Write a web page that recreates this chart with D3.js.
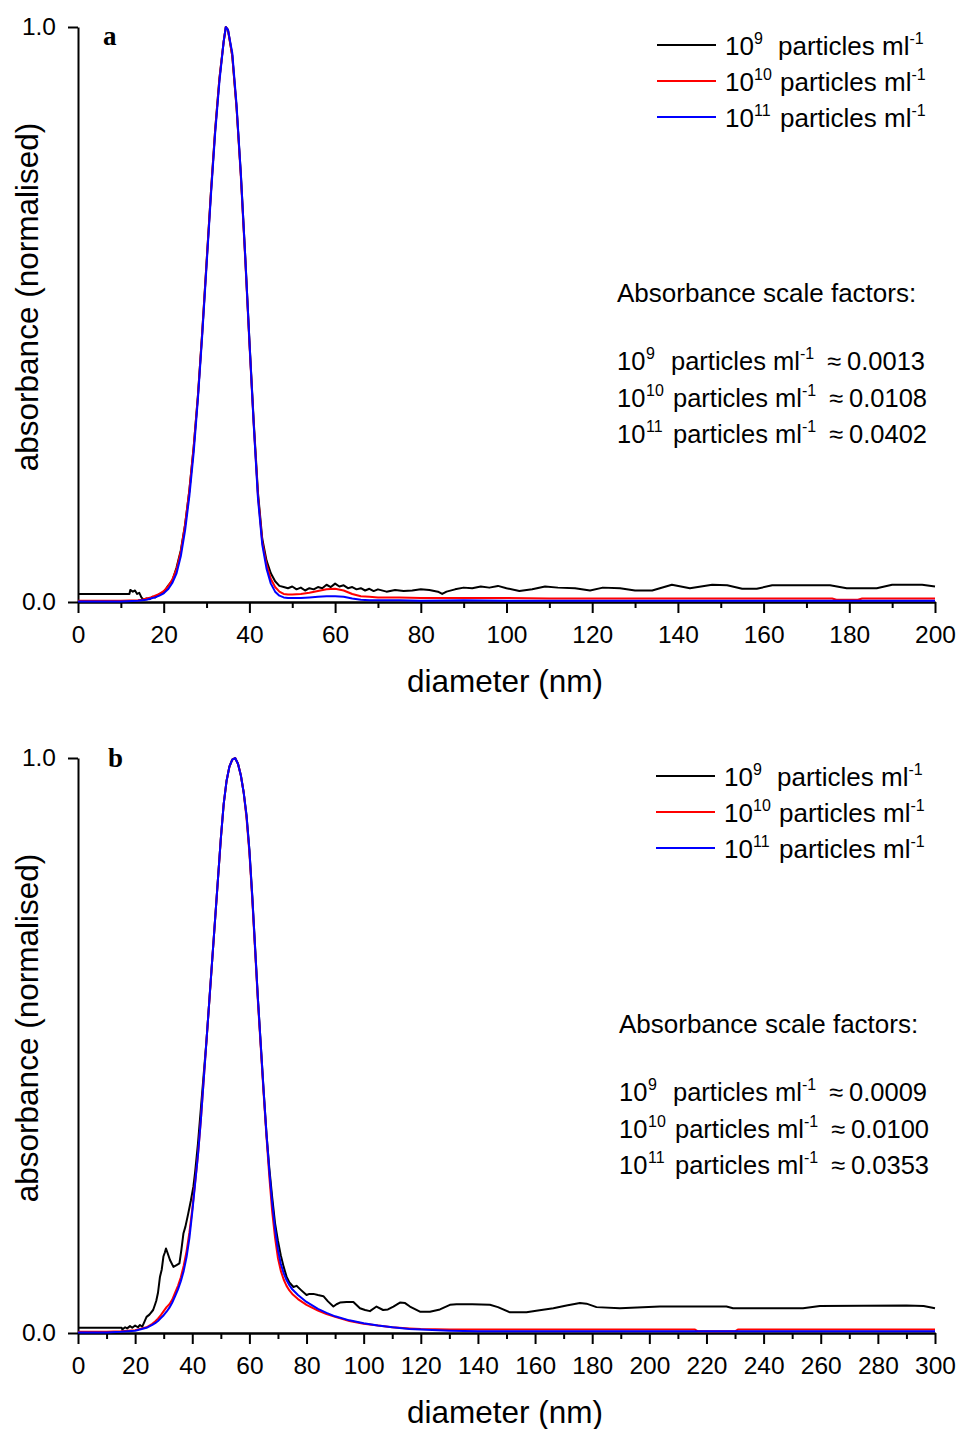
<!DOCTYPE html>
<html>
<head>
<meta charset="utf-8">
<title>absorbance vs diameter</title>
<style>
body { margin: 0; background: #fff; }
svg text { font-family: "Liberation Sans", Arial, sans-serif; fill: #000; }
</style>
</head>
<body>
<script src="https://d3js.org/d3.v7.min.js"></script>
<script>
// ---- panel a ----
var diamA = [0, 10, 14, 15, 16, 17, 18, 19, 20, 21, 22, 23, 24, 25, 26, 27, 28, 29, 30, 31, 32, 33, 34, 34.5,
  35, 36, 37, 38, 39, 40, 41, 42, 43, 44, 45, 46, 47, 48, 49, 50,
  52, 54, 56, 58, 60, 62, 64, 66, 68, 70, 75, 80, 90, 100, 110, 120, 140, 160, 176, 177, 182, 183, 200];
var redA = [0.002, 0.002, 0.003, 0.004, 0.006, 0.008, 0.011, 0.014, 0.019, 0.027, 0.039, 0.057, 0.088, 0.135, 0.195, 0.27, 0.36, 0.47, 0.59, 0.71, 0.82, 0.91, 0.975, 1.0,
  0.995, 0.95, 0.86, 0.74, 0.6, 0.45, 0.31, 0.185, 0.105, 0.065, 0.04, 0.026, 0.018, 0.014, 0.013, 0.013,
  0.014, 0.016, 0.019, 0.022, 0.023, 0.02, 0.014, 0.01, 0.009, 0.008, 0.008, 0.007, 0.007, 0.007, 0.006, 0.006, 0.006, 0.006, 0.006, 0.004, 0.004, 0.006, 0.006];
var blueA = [0.001, 0.001, 0.002, 0.003, 0.004, 0.006, 0.008, 0.011, 0.015, 0.022, 0.033, 0.05, 0.08, 0.125, 0.185, 0.26, 0.355, 0.465, 0.585, 0.705, 0.815, 0.905, 0.975, 1.0,
  0.995, 0.955, 0.865, 0.745, 0.605, 0.455, 0.31, 0.18, 0.1, 0.058, 0.032, 0.018, 0.011, 0.008, 0.007, 0.007,
  0.007, 0.008, 0.009, 0.01, 0.01, 0.009, 0.006, 0.004, 0.003, 0.003, 0.003, 0.002, 0.003, 0.002, 0.002, 0.002, 0.002, 0.002, 0.002, 0.002, 0.002, 0.002, 0.002];
var diamBlackA = [0, 12, 12.2, 12.8, 13.3, 13.8, 14.3, 14.8, 15.3, 16, 16.7, 17.4, 18, 19, 20, 21, 22, 23, 24, 25,
  26, 27, 28, 29, 30, 31, 32, 33, 34, 34.5, 35, 36, 37, 38, 39, 40, 41, 42, 43, 44, 45,
  46, 47, 48, 49, 50, 51, 52, 53, 54, 55, 56, 57, 58, 59, 60, 61, 62, 63, 64, 65, 66, 67, 68, 69, 70,
  72, 74, 76, 78, 80, 82, 84, 85, 86, 88, 90, 92, 94, 96, 98, 100, 103, 106, 109, 112, 116,
  119.5, 122.5, 126.5, 130, 134, 138.6, 142.8, 148, 151.5, 155, 158.4, 162, 175.5, 179.4, 186.4, 190, 197, 200];
var blackA = [0.014, 0.014, 0.021, 0.018, 0.02, 0.014, 0.016, 0.008, 0.004, 0.006, 0.005, 0.009, 0.008, 0.014, 0.016, 0.028, 0.037, 0.06, 0.09, 0.135,
  0.195, 0.27, 0.36, 0.47, 0.59, 0.71, 0.82, 0.91, 0.975, 1.0, 0.995, 0.95, 0.86, 0.745, 0.605, 0.455, 0.315, 0.19, 0.11, 0.072, 0.05,
  0.036, 0.028, 0.026, 0.024, 0.027, 0.022, 0.025, 0.02, 0.024, 0.022, 0.026, 0.024, 0.03, 0.026, 0.032, 0.027, 0.029, 0.024, 0.026, 0.022, 0.024, 0.02, 0.023, 0.019, 0.022,
  0.018, 0.021, 0.019, 0.02, 0.022, 0.021, 0.018, 0.014, 0.018, 0.022, 0.025, 0.024, 0.027, 0.025, 0.028, 0.024, 0.019, 0.022, 0.027, 0.025, 0.024,
  0.02, 0.025, 0.024, 0.02, 0.02, 0.03, 0.024, 0.03, 0.029, 0.023, 0.023, 0.029, 0.029, 0.024, 0.024, 0.03, 0.03, 0.027];

// ---- panel b ----
var diamB = [0, 10, 15, 20, 24,
  26, 27, 28, 29, 30, 31, 32, 33, 34, 35, 36, 37, 38, 39, 40, 41, 42, 43, 44, 45, 46, 47, 48, 49, 50,
  51, 52, 53, 54, 55, 56, 57, 58, 59, 60, 61, 62, 63, 64, 65, 66, 67, 68, 69, 70, 71, 72, 73, 74, 75,
  77, 80, 84, 87, 90, 95, 100, 105, 110, 116, 120, 130, 140, 160, 200, 216, 217, 230, 231, 300];
var redB = [0.002, 0.002, 0.003, 0.005, 0.01,
  0.016, 0.02, 0.025, 0.031, 0.038, 0.045, 0.05, 0.058, 0.07, 0.082, 0.097, 0.117, 0.142, 0.175, 0.215, 0.262, 0.31, 0.37, 0.44, 0.51, 0.58, 0.65, 0.72, 0.79, 0.86,
  0.92, 0.96, 0.985, 0.997, 1.0, 0.99, 0.97, 0.94, 0.895, 0.835, 0.755, 0.665, 0.575, 0.495, 0.415, 0.34, 0.27, 0.21, 0.165, 0.13, 0.108, 0.093, 0.082, 0.074, 0.068,
  0.059, 0.049, 0.039, 0.033, 0.028, 0.021, 0.016, 0.013, 0.01, 0.008, 0.007, 0.006, 0.006, 0.006, 0.006, 0.006, 0.003, 0.003, 0.006, 0.006];
var blueB = [0.001, 0.001, 0.002, 0.004, 0.009,
  0.014, 0.017, 0.021, 0.026, 0.031, 0.037, 0.044, 0.053, 0.064, 0.076, 0.09, 0.108, 0.132, 0.165, 0.21, 0.26, 0.31, 0.37, 0.44, 0.51, 0.58, 0.65, 0.72, 0.79, 0.86,
  0.92, 0.96, 0.985, 0.997, 1.0, 0.99, 0.97, 0.94, 0.9, 0.84, 0.76, 0.67, 0.58, 0.5, 0.42, 0.345, 0.28, 0.225, 0.18, 0.145, 0.12, 0.104, 0.092, 0.083, 0.076,
  0.066, 0.054, 0.042, 0.035, 0.029, 0.022, 0.017, 0.013, 0.01, 0.007, 0.006, 0.004, 0.003, 0.003, 0.003, 0.003, 0.003, 0.003, 0.003, 0.003];
var diamBlackB = [0, 15.3, 15.5, 16.5, 17.2, 18.2, 19, 20, 21, 21.7, 22.5, 23.2, 24, 25, 26.3, 27, 27.4, 28, 28.7, 29.3, 29.9, 30.4, 30.8, 31.3,
  32.2, 33.4, 34.5, 35.5, 36.2, 36.9, 37.6, 38.6, 39.5, 40.4, 41, 42, 43, 44, 45,
  46, 47, 48, 49, 50, 51, 52, 53, 54, 55, 56, 57, 58, 59, 60, 61, 62, 63, 64, 65, 66, 67, 68,
  69, 69.5, 70, 71, 72, 73, 74, 75.4, 76.5, 78, 80, 81, 82.4, 84, 85.9, 87.5, 89.4, 90.5, 91.7, 94, 96.4, 98.7,
  100.5, 102.2, 104.5, 106.8, 108.5, 110.4, 112.7, 114.5, 116.2, 119.7, 123.2, 126.7, 130.2, 132.5, 138, 144.2, 147, 151.2,
  157, 161, 166.4, 171, 175.7, 178, 181.5, 189.7, 203.7, 227, 229.3, 253.8, 259.7, 290, 296, 300];
var blackB = [0.009, 0.009, 0.006, 0.01, 0.008, 0.012, 0.009, 0.013, 0.01, 0.014, 0.011, 0.019, 0.028, 0.032, 0.04, 0.05, 0.056, 0.07, 0.098, 0.11, 0.133, 0.14, 0.147, 0.14,
  0.127, 0.115, 0.118, 0.121, 0.145, 0.173, 0.185, 0.208, 0.23, 0.255, 0.28, 0.33, 0.39, 0.45, 0.51,
  0.58, 0.65, 0.72, 0.79, 0.86, 0.92, 0.96, 0.985, 0.997, 1.0, 0.99, 0.97, 0.94, 0.9, 0.84, 0.76, 0.67, 0.58, 0.5, 0.42, 0.345, 0.285, 0.235,
  0.19, 0.175, 0.16, 0.135, 0.115, 0.098, 0.088, 0.08, 0.082, 0.075, 0.066, 0.068, 0.068, 0.066, 0.064, 0.055, 0.046, 0.05, 0.053, 0.054, 0.054, 0.043,
  0.04, 0.038, 0.046, 0.04, 0.041, 0.046, 0.053, 0.052, 0.046, 0.037, 0.037, 0.041, 0.049, 0.05, 0.05, 0.049, 0.045, 0.036,
  0.036, 0.039, 0.043, 0.048, 0.052, 0.051, 0.045, 0.043, 0.046, 0.046, 0.043, 0.043, 0.047, 0.048, 0.047, 0.043];

// ---- ticks and labels ----
var ticksA = [0, 20, 40, 60, 80, 100, 120, 140, 160, 180, 200];
var ticksB = [0, 20, 40, 60, 80, 100, 120, 140, 160, 180, 200, 220, 240, 260, 280, 300];
var yTicks = [0, 1];
var exponents = ['9', '10', '11'];
var factorsA = ['0.0013', '0.0108', '0.0402'];
var factorsB = ['0.0009', '0.0100', '0.0353'];
var colors = ['#000000', '#ff0000', '#0000ff'];

var svg = d3.select('body').append('svg')
  .attr('width', 958)
  .attr('height', 1429)
  .style('background', '#fff');

function styleAxis(sel) {
  sel.attr('font-size', 24.5).attr('font-family', '"Liberation Sans", Arial, sans-serif');
  sel.selectAll('path, line').attr('stroke', '#000').attr('stroke-width', 2);
  sel.selectAll('text').attr('fill', '#000');
}

// "10^n particles ml^-1" as tspans; xs = positions of "10", exponent, "particles"
function concText(t, xs, exp) {
  t.append('tspan').attr('x', xs[0]).text('10');
  t.append('tspan').attr('x', xs[1]).attr('dy', -11).attr('font-size', 16).text(exp);
  t.append('tspan').attr('x', xs[2]).attr('dy', 11).text('particles ml');
  t.append('tspan').attr('dy', -11).attr('font-size', 16).text('-1');
}

function drawPanel(p) {
  var top = p.top, bottom = p.top + 575;
  var x = d3.scaleLinear().domain([0, p.xMax]).range([78, 935]);
  var y = d3.scaleLinear().domain([0, 1]).range([bottom, top]);
  var g = svg.append('g');

  g.append('g').attr('transform', 'translate(0,' + bottom + ')')
    .call(d3.axisBottom(x).tickValues(d3.range(10, p.xMax, 20)).tickSize(6).tickFormat('').tickSizeOuter(0))
    .call(styleAxis);
  g.append('g').attr('transform', 'translate(0,' + bottom + ')')
    .call(d3.axisBottom(x).tickValues(p.ticks).tickSize(11).tickPadding(13).tickSizeOuter(0))
    .call(styleAxis);
  g.append('g').attr('transform', 'translate(78,0)')
    .call(d3.axisLeft(y).tickValues(yTicks).tickFormat(d3.format('.1f')).tickSize(10).tickPadding(12).tickSizeOuter(0))
    .call(styleAxis);

  var line = d3.line().x(function(d) { return x(d[0]); }).y(function(d) { return y(d[1]); });
  p.series.forEach(function(s, i) {
    g.append('path')
      .datum(d3.zip(s[0], s[1]))
      .attr('fill', 'none')
      .attr('stroke', colors[i])
      .attr('stroke-width', 2)
      .attr('stroke-linejoin', 'round')
      .attr('d', line);
  });

  // axis titles
  g.append('text')
    .attr('transform', 'translate(38,' + (top + 270) + ') rotate(-90)')
    .attr('text-anchor', 'middle')
    .attr('font-size', 31.5)
    .text('absorbance (normalised)');
  g.append('text')
    .attr('x', 505).attr('y', bottom + 90)
    .attr('text-anchor', 'middle')
    .attr('font-size', 31.5)
    .text('diameter (nm)');

  // panel letter
  g.append('text')
    .attr('x', p.letterX).attr('y', top + p.letterY)
    .attr('font-weight', 'bold')
    .attr('font-size', 27)
    .style('font-family', '"Liberation Serif", "Times New Roman", serif')
    .text(p.letter);

  // legend
  var lx = p.legendDx;
  exponents.forEach(function(e, i) {
    g.append('line')
      .attr('x1', 657 + lx).attr('x2', 716 + lx)
      .attr('y1', top + 18 + i * 36).attr('y2', top + 18 + i * 36)
      .attr('stroke', colors[i]).attr('stroke-width', 2);
    var t = g.append('text').attr('y', top + 28 + i * 36).attr('font-size', 26);
    var w = i === 0 ? 0 : 2;
    concText(t, [725 + lx, 754 + lx, 778 + w + lx], e);
  });

  // scale factors
  var ax = p.noteDx;
  g.append('text').attr('x', 617 + ax).attr('y', top + 275).attr('font-size', 26)
    .text('Absorbance scale factors:');
  exponents.forEach(function(e, i) {
    var t = g.append('text').attr('y', top + 343 + i * 36.6).attr('font-size', 25.5);
    var w = i === 0 ? 0 : 2;
    concText(t, [617 + ax, 646 + ax, 671 + w + ax], e);
    t.append('tspan').attr('x', 827 + w + ax).attr('dy', 11).text('\u2248');
    t.append('tspan').attr('x', 847 + w + ax).text(p.factors[i]);
  });
}

drawPanel({
  top: 27, xMax: 200, ticks: ticksA, letter: 'a', letterX: 103, letterY: 18,
  legendDx: 0, noteDx: 0, factors: factorsA,
  series: [[diamBlackA, blackA], [diamA, redA], [diamA, blueA]]
});
drawPanel({
  top: 758, xMax: 300, ticks: ticksB, letter: 'b', letterX: 108, letterY: 9,
  legendDx: -1, noteDx: 2, factors: factorsB,
  series: [[diamBlackB, blackB], [diamB, redB], [diamB, blueB]]
});
</script>
</body>
</html>
